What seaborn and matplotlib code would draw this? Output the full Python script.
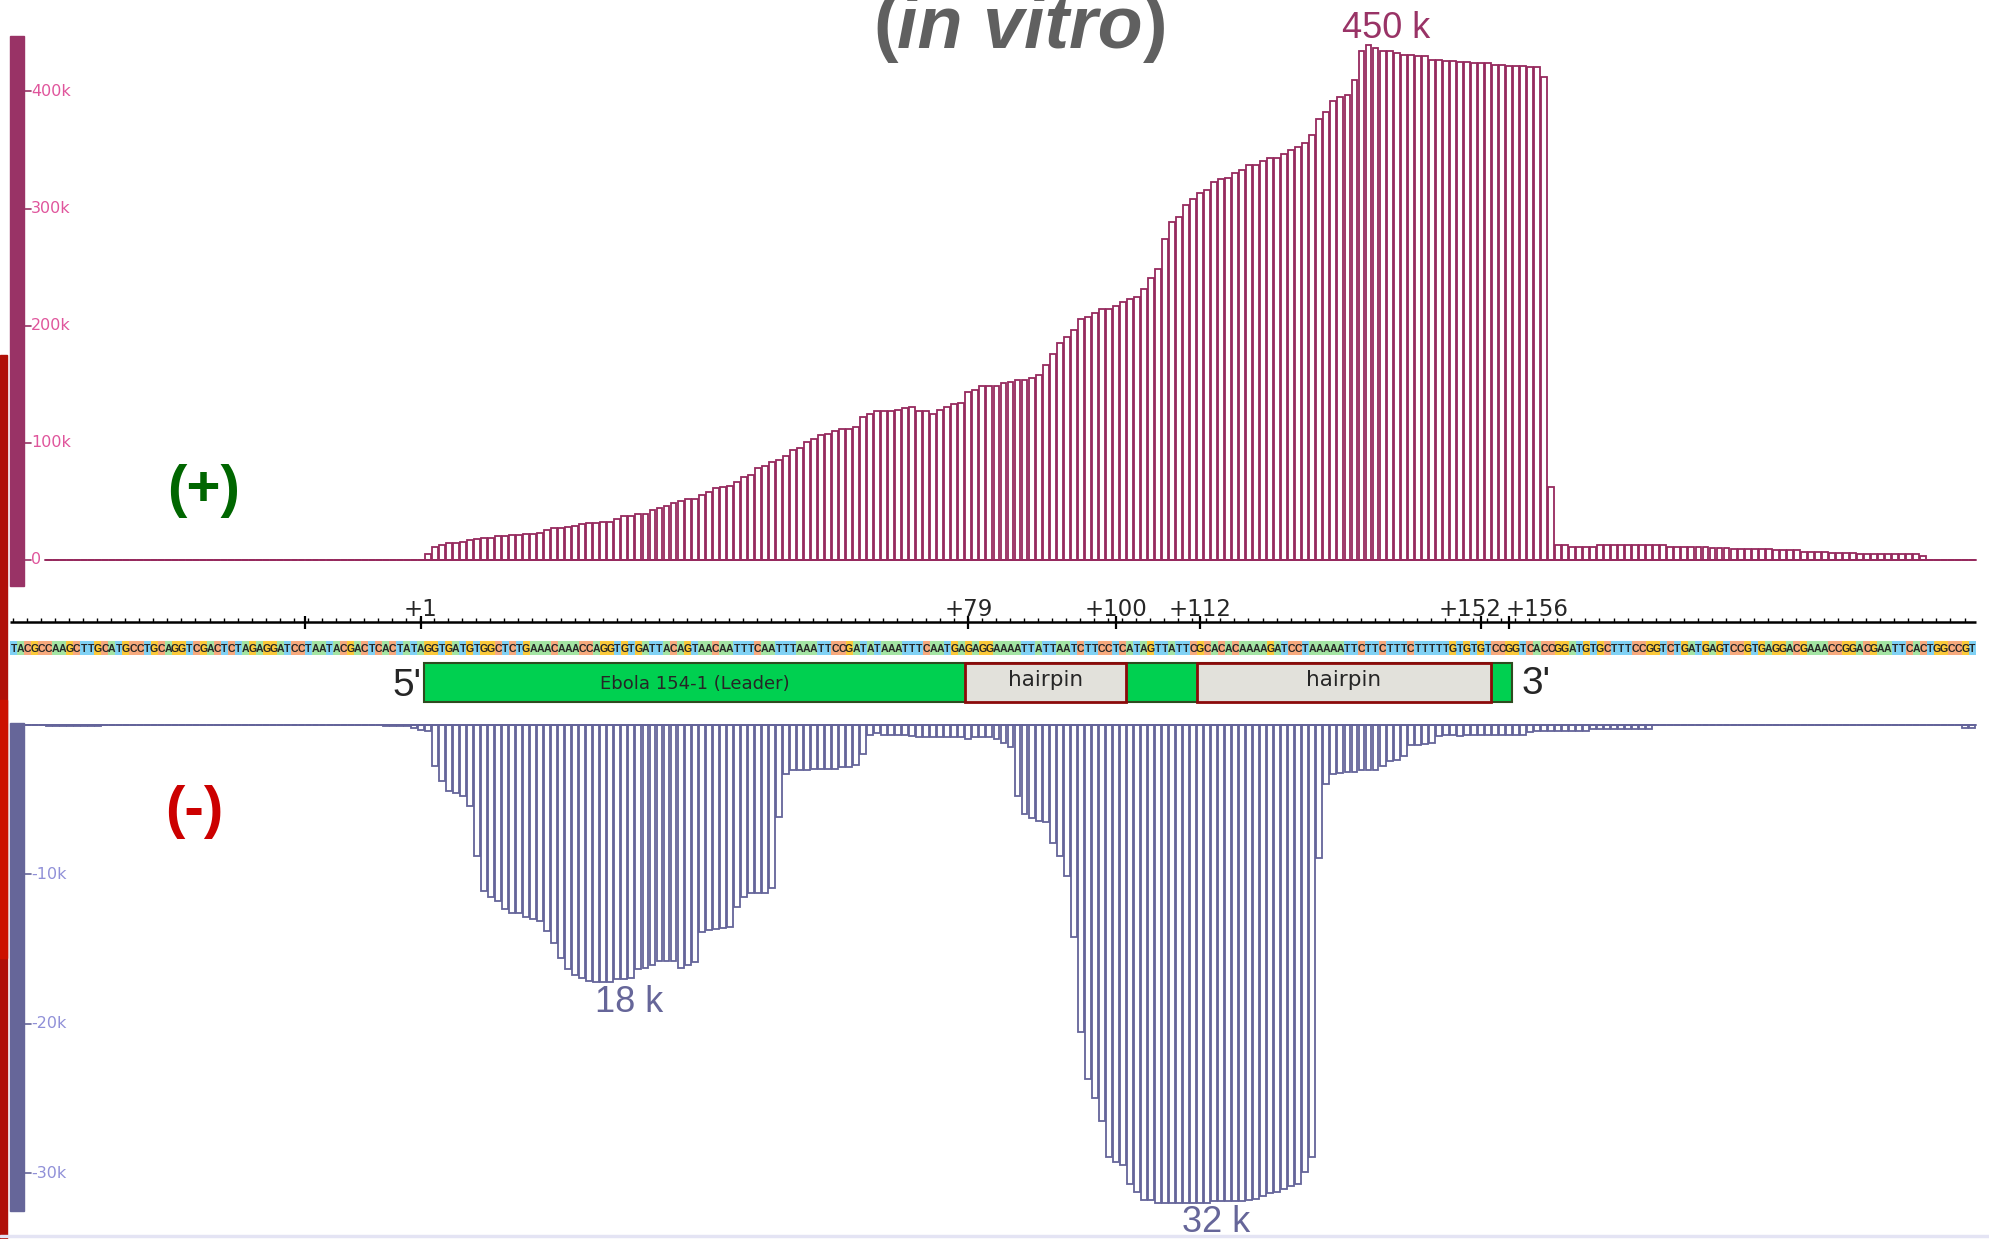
import numpy as np
import pandas as pd
import seaborn as sns
import matplotlib.pyplot as plt
from matplotlib.patches import Rectangle
from matplotlib.font_manager import FontProperties
from matplotlib import font_manager
from matplotlib.transforms import blended_transform_factory

# ---- data -------------------------------------------------------------
seq_prefix = "TACGCCAAGCTTGCATGCCTGCAGGTCGACTCTAGAGGATCCTAATACGACTCACTATA"
seq_leader = ("GGTGATGTGGCTCTGAAACAAACCAGGTGTGATTACAGTAACAATTTCAATTTAAATTCC"
              "GATATAAATTTCAATGAGAGGAAAATTATTAATCTTCCTCATAGTTATTCGCACACAAAA"
              "GATCCTAAAAATTCTTCTTTCTTTTTGTGTGTCCG")
seq_suffix = "GTCACCGGATGTGCTTTCCGGTCTGATGAGTCCGTGAGGACGAAACCGGACGAATTCACTGGCCGT"

# (+) strand coverage in thousands, positions -53 .. +221
top_start = -53
top_pre = [0] * 54
top_rise = [4.6, 10.4, 12.7, 13.8, 13.8, 15.0, 16.4, 17.6, 18.7, 18.7,
            19.9, 19.9, 21.0, 21.0, 22.2, 22.2, 23.0, 25.4, 26.5, 26.5,
            27.7, 28.8, 30.0, 30.8, 30.8, 32.3, 32.3, 34.6, 36.9, 36.9,
            39.2, 39.2, 42.7, 44.4, 45.8, 48.1, 49.6, 51.9, 51.9, 55.4,
            57.7, 61.1, 62.3, 62.9, 66.6, 70.1, 72.4, 78.4, 79.6, 83.0,
            85.3, 88.8, 93.4, 95.7, 100.3, 102.6, 106.1, 107.2, 109.6, 111.9,
            111.9, 113.0, 122.2, 124.5, 126.9, 126.9, 126.9, 128.0, 129.2, 130.3,
            126.9, 126.9, 124.5, 128.0, 130.3, 132.6, 133.8, 143.0, 145.0]
top_peak = [148.5, 148.5, 148.5, 151.0, 152.0, 153.4, 153.4, 155.4, 158.0, 166.0,
            175.3, 185.4, 190.3, 196.0, 205.3, 207.6, 211.0, 214.2, 214.2, 216.5,
            220.3, 222.6, 224.6, 231.5, 240.7, 248.0, 273.9, 288.3, 292.9, 303.3,
            307.9, 313.1, 315.7, 322.6, 325.2, 326.0, 330.7, 333.0, 337.3, 337.3,
            341.0, 343.4, 343.4, 346.5, 350.3, 352.3, 356.0, 362.7, 376.8, 382.6,
            391.5, 395.0, 397.3, 410.0, 434.2, 440.0, 437.6, 434.2, 434.2, 433.0,
            431.0, 431.0, 430.1, 430.1, 427.3, 427.3, 426.1, 426.1, 425.2, 425.2,
            424.1, 424.1, 424.1, 423.0, 423.0, 421.8, 421.8, 421.8, 421.0, 421.0,
            412.8]
top_tail = [61.6, 12.4, 12.4, 10.8, 10.8, 10.8, 10.8,
            12.4, 12.4, 12.4, 12.4, 12.4, 12.4, 12.4, 12.4, 12.4, 12.4,
            10.8, 10.8, 10.8, 10.8, 10.8, 10.8, 9.8, 9.8, 9.8,
            8.8, 8.8, 8.8, 8.8, 8.8, 8.8, 7.8, 7.8, 7.8, 7.8,
            6.5, 6.5, 6.5, 6.5, 5.5, 5.5, 5.5, 5.5,
            4.6, 4.6, 4.6, 4.6, 4.6, 4.6, 4.6, 4.6, 4.6, 3.3,
            0, 0, 0, 0, 0, 0, 0]

# (-) strand coverage in thousands (magnitude), positions -56 .. +221
bot_start = -56
bot_pre = [0.03, 0.03, 0.03] + [0.12] * 8 + [0.03] * 40 + [0.12, 0.12, 0.12, 0.12, 0.25]
bot_first = [0.39, 0.45, 2.77, 3.79, 4.42, 4.60, 4.76, 5.44, 8.82, 11.13,
             11.50, 11.77, 12.31, 12.59, 12.59, 12.88, 12.97, 13.13, 13.79, 14.60,
             15.62, 16.35, 16.73, 16.92, 17.12, 17.21, 17.21, 17.21, 17.01, 17.01,
             16.92, 16.35, 16.26, 16.08, 15.80, 15.80, 15.80, 16.26, 16.08, 15.90,
             13.88, 13.76, 13.67, 13.61, 13.51, 12.22, 11.50, 11.29, 11.29, 11.29,
             10.93, 6.15, 3.31, 3.04, 3.04, 3.04, 2.95, 2.95, 2.95, 2.95,
             2.86, 2.86, 2.68, 1.95, 0.68, 0.54, 0.68, 0.68, 0.68, 0.68,
             0.77, 0.86, 0.86, 0.86, 0.82]
bot_second = [0.82, 0.82, 0.82, 0.93, 0.82, 0.82, 0.82, 0.93, 1.20, 1.47,
              4.78, 5.96, 6.22, 6.44, 6.51, 7.93, 8.76, 10.11, 14.22, 20.56,
              23.69, 24.96, 26.49, 28.93, 29.29, 29.47, 30.73, 31.27, 31.80, 31.80,
              31.98, 31.98, 31.98, 31.98, 31.98, 31.98, 31.98, 31.98, 31.89, 31.89,
              31.89, 31.89, 31.89, 31.80, 31.71, 31.53, 31.36, 31.27, 31.09, 30.89,
              30.71, 29.91, 28.93, 8.93, 3.98, 3.33, 3.24, 3.16, 3.16, 3.07,
              3.07, 3.07, 2.80, 2.44, 2.36, 2.09, 1.38, 1.38, 1.29, 1.20,
              0.76, 0.67, 0.67, 0.76, 0.67, 0.67, 0.67, 0.67, 0.67, 0.67,
              0.67, 0.67, 0.67, 0.49, 0.44]
bot_tail = [0.45] * 7 + [0.3] * 9 + [0.05] * 44 + [0.25, 0.25]

top_ticks = [0, 100, 200, 300, 400]
top_tick_labels = ["0", "100k", "200k", "300k", "400k"]
bot_ticks = [-10, -20, -30]
bot_tick_labels = ["-10k", "-20k", "-30k"]

ruler_pos = [1, 79, 100, 112, 152, 156]
ruler_labels = ["+1", "+79", "+100", "+112", "+152", "+156"]
ruler_ha = ["center", "center", "center", "center", "right", "left"]

feat_names = ["Ebola 154-1 (Leader)", "hairpin", "hairpin"]
feat_start = [1, 78, 111]
feat_end = [155, 100, 152]

base_colors = {"A": "#A3E4A3", "C": "#F7A97D", "G": "#FBC93A", "T": "#80D1F4"}

# ---- layout helpers -----------------------------------------------------
W, H = 1990, 1239
PX = 7.02          # pixels per base
X0 = 10.15         # left edge of first base
OFFSET = 58        # base +p sits at index 58 + p
XLIM = (-X0 / PX, (W - X0) / PX)


def has_font(name, weight="normal"):
    try:
        font_manager.findfont(FontProperties(family=name, weight=weight),
                              fallback_to_default=False)
        return True
    except ValueError:
        return False


SANS = "Liberation Sans" if has_font("Liberation Sans") else "DejaVu Sans"
NARROW = "Liberation Sans Narrow" if has_font("Liberation Sans Narrow") else SANS


def fy(y):
    return 1 - y / H


sns.set_theme(style="white")
plt.rcParams["font.family"] = ["DejaVu Sans"]
fig = plt.figure(figsize=(W / 100, H / 100), dpi=100)

# ---- coverage tracks ----------------------------------------------------
top_cov = top_pre + top_rise + top_peak + top_tail
bot_cov = bot_pre + bot_first + bot_second + bot_tail
df_top = pd.DataFrame({"pos": np.arange(len(top_cov)) + OFFSET + top_start + 0.5,
                       "cov": top_cov})
df_bot = pd.DataFrame({"pos": np.arange(len(bot_cov)) + OFFSET + bot_start + 0.5,
                       "cov": -np.array(bot_cov)})

TOP_C, BOT_C = "#962A5E", "#64649A"

ax_top = fig.add_axes([0, fy(586), 1, (586 - 35.5) / H])
ax_top.plot([df_top.pos.min() - 0.5, df_top.pos.max() + 0.5], [0, 0], color=TOP_C, lw=1.4)
sns.barplot(data=df_top, x="pos", y="cov", native_scale=True, orient="x", width=0.84,
            color="white", edgecolor=TOP_C, linewidth=1.3, saturation=1,
            errorbar=None, ax=ax_top)
ax_top.set_xlim(XLIM)
ax_top.set_ylim((559.5 - 586) / 1.17, (559.5 - 35.5) / 1.17)
ax_top.axis("off")

ax_bot = fig.add_axes([0, fy(1211), 1, (1211 - 723) / H])
ax_bot.plot([df_bot.pos.min() - 0.5, df_bot.pos.max() + 0.5], [0, 0], color=BOT_C, lw=1.4)
sns.barplot(data=df_bot, x="pos", y="cov", native_scale=True, orient="x", width=0.84,
            color="white", edgecolor=BOT_C, linewidth=1.3, saturation=1,
            errorbar=None, ax=ax_bot)
ax_bot.set_xlim(XLIM)
ax_bot.set_ylim(-(1211 - 724.6) / 14.95, (724.6 - 723) / 14.95)
ax_bot.axis("off")

# y-axis bars with ticks
for ax, ticks, labels, bar_c, lab_c in [
        (ax_top, top_ticks, top_tick_labels, "#993366", "#E0559C"),
        (ax_bot, bot_ticks, bot_tick_labels, "#666699", "#9090D8")]:
    tr_ax = blended_transform_factory(fig.transFigure, ax.transAxes)
    ax.add_patch(Rectangle((10 / W, 0), 14 / W, 1, transform=tr_ax, color=bar_c,
                           clip_on=False, zorder=3))
    tr = blended_transform_factory(fig.transFigure, ax.transData)
    for v, lab in zip(ticks, labels):
        ax.plot([24 / W, 31 / W], [v, v], transform=tr, color=bar_c, lw=1.2, clip_on=False)
        ax.text(31 / W, v, lab, transform=tr, color=lab_c, fontsize=11.5,
                ha="left", va="center", clip_on=False)

# ---- overlay: ruler, sequence, features, labels ---------------------------
ax_o = fig.add_axes([0, 0, 1, 1], zorder=5)
ax_o.set_xlim(XLIM)
ax_o.set_ylim(H, 0)
ax_o.axis("off")
ax_o.patch.set_alpha(0)

seq = seq_prefix + seq_leader + seq_suffix
n_seq = len(seq)

# ruler
ax_o.plot([0, n_seq], [622, 622], color="black", lw=1.8, solid_capstyle="butt")
ax_o.vlines(np.arange(0.4, n_seq, 2), 618, 622, color="black", lw=1)
ax_o.vlines([42] + [OFFSET - 0.5 + p for p in ruler_pos], 616, 629, color="black", lw=1.6)
nudge = {"center": 0, "right": 2.9, "left": -0.5}
for p, lab, ha in zip(ruler_pos, ruler_labels, ruler_ha):
    ax_o.text(OFFSET - 0.5 + p + nudge[ha], 616, lab, ha=ha, va="baseline", fontsize=16.5)

# sequence row
for i, b in enumerate(seq):
    ax_o.add_patch(Rectangle((i, 641), 1, 14, facecolor=base_colors[b], lw=0))
    ax_o.text(i + 0.5, 648.6, b, ha="center", va="center", fontsize=7.6,
              fontweight="bold", family=NARROW)

# features
for k, (name, s, e) in enumerate(zip(feat_names, feat_start, feat_end)):
    x0, x1 = OFFSET + s, OFFSET + e + 1
    if k == 0:
        ax_o.add_patch(Rectangle((x0, 662.5), x1 - x0, 39.5, facecolor="#00D050",
                                 edgecolor="#2F4A1F", lw=1.5))
        ax_o.text((x0 + OFFSET + feat_start[1]) / 2, 684, name, ha="center", va="center",
                  fontsize=13)
    else:
        ax_o.add_patch(Rectangle((x0, 662.5), x1 - x0, 39.5, facecolor="#E2E1DB",
                                 edgecolor="#8B0A0A", lw=2))
        ax_o.text((x0 + x1) / 2, 680, name, ha="center", va="center", fontsize=15.5)

ax_o.text(OFFSET + feat_start[0] - 0.4, 686, "5'", ha="right", va="center",
          fontsize=28, family=NARROW)
ax_o.text(OFFSET + feat_end[0] + 2.3, 684, "3'", ha="left", va="center",
          fontsize=28, family=NARROW)

# strand labels
ax_o.text(27.5, 491, "(+)", ha="center", va="center", fontsize=42, fontweight="bold",
          color="#006600", family=SANS)
ax_o.text(26.2, 812, "(-)", ha="center", va="center", fontsize=42, fontweight="bold",
          color="#CC0000", family=SANS)

# peak labels
ax_o.text(196, 28, "450 k", ha="center", va="center", fontsize=26, color="#993366",
          family=SANS)
ax_o.text(88.2, 1003, "18 k", ha="center", va="center", fontsize=26, color="#666699",
          family=SANS)
ax_o.text(171.8, 1222, "32 k", ha="center", va="center", fontsize=26, color="#666699",
          family=SANS)

# title (clipped at the top edge, as in the original slide)
t1 = ax_o.text(122.9, 48, "(", ha="left", va="baseline", fontsize=53,
               fontweight="bold", color="#606060", family=SANS)
t2 = ax_o.annotate("in vitro", xy=(1, 0), xycoords=t1, ha="left", va="bottom",
                   fontsize=53, fontweight="bold", style="italic", color="#606060",
                   family=SANS)
ax_o.annotate(")", xy=(1, 0), xycoords=t2, ha="left", va="bottom", fontsize=53,
              fontweight="bold", color="#606060", family=SANS)

# left red stripe and faint bottom rule
fig.patches.append(Rectangle((0, fy(1239)), 7 / W, (1239 - 355) / H,
                             transform=fig.transFigure, color="#B01008", zorder=0))
fig.patches.append(Rectangle((0, fy(958)), 7 / W, (958 - 700) / H,
                             transform=fig.transFigure, color="#CC1100", zorder=0))
fig.patches.append(Rectangle((0, fy(1237)), 1, 2 / H, transform=fig.transFigure,
                             color="#E4E4F4", zorder=0))

fig.savefig("out.png", dpi=100, facecolor="white")
